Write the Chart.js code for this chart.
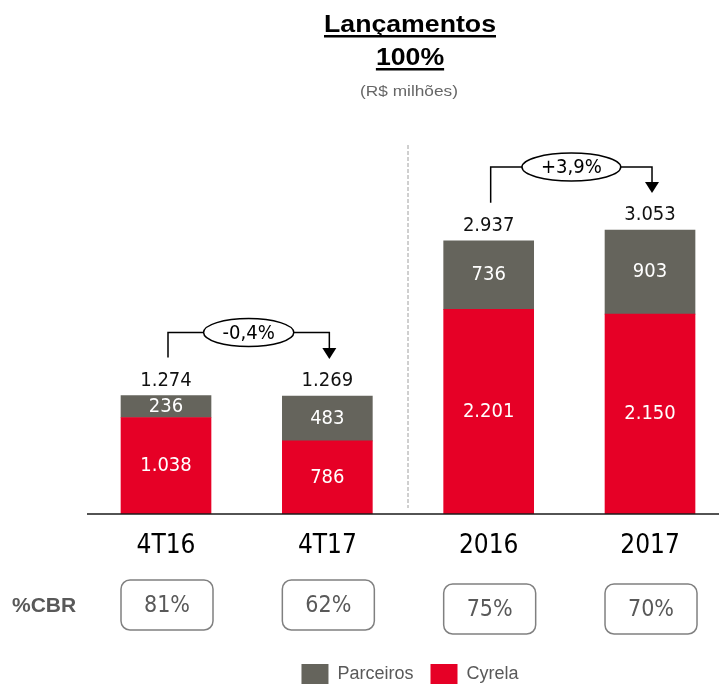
<!DOCTYPE html>
<html>
<head>
<meta charset="utf-8">
<script src="https://cdn.jsdelivr.net/npm/chart.js@4"></script>
<style>
  body { margin: 0; background: #fff; }
  #wrap { width: 721px; height: 684px; position: relative; }
</style>
</head>
<body>
<div id="wrap"><canvas id="myChart"></canvas></div>
<script>
// data
var categorias = ['4T16', '4T17', '2016', '2017'];
var cyrela = [1038, 786, 2201, 2150];
var parceiros = [236, 483, 736, 903];
var cbr = [81, 62, 75, 70];
var variacoes = [
  { de: 0, para: 1, texto: '-0,4%' },
  { de: 2, para: 3, texto: '+3,9%' }
];

var vermelho = '#E60026';
var cinza = '#65645C';
var numFont = "'DejaVu Sans Condensed', 'DejaVu Sans', sans-serif";
var arial = "'Liberation Sans', Arial, sans-serif";

function fmt(n) {
  return String(n).replace(/\B(?=(\d{3})+(?!\d))/g, '.');
}

function texto(ctx, t, x, y, font, color, sx, align, base) {
  ctx.save();
  ctx.font = font;
  ctx.fillStyle = color;
  ctx.textAlign = align || 'center';
  ctx.textBaseline = base || 'middle';
  ctx.translate(x, y);
  ctx.scale(sx || 1, 1);
  ctx.fillText(t, 0, 0);
  var w = ctx.measureText(t).width * (sx || 1);
  ctx.restore();
  return w;
}

// everything drawn around the bars
var extras = {
  id: 'extras',
  beforeDatasetsDraw: function (chart) {
    var ctx = chart.ctx;
    var x = chart.scales.x;
    var area = chart.chartArea;
    // dashed separator between quarters and years
    var xs = x.getPixelForValue(1.5);
    ctx.save();
    ctx.strokeStyle = '#c0c0c0';
    ctx.lineWidth = 1.5;
    ctx.setLineDash([4, 2]);
    ctx.beginPath();
    ctx.moveTo(xs, 145);
    ctx.lineTo(xs, area.bottom - 6);
    ctx.stroke();
    ctx.restore();
  },
  afterDatasetsDraw: function (chart) {
    var ctx = chart.ctx;
    var area = chart.chartArea;
    var m0 = chart.getDatasetMeta(0);
    var m1 = chart.getDatasetMeta(1);

    // axis line
    ctx.save();
    ctx.strokeStyle = '#1a1a1a';
    ctx.lineWidth = 1.5;
    ctx.beginPath();
    ctx.moveTo(87, area.bottom);
    ctx.lineTo(719, area.bottom);
    ctx.stroke();
    ctx.restore();

    // values inside segments and totals on top
    categorias.forEach(function (c, i) {
      var r = m0.data[i], g = m1.data[i];
      texto(ctx, fmt(cyrela[i]), r.x, (r.y + r.base) / 2, '20px ' + numFont, '#fff');
      texto(ctx, fmt(parceiros[i]), g.x, (g.y + g.base) / 2, '20px ' + numFont, '#fff');
      texto(ctx, fmt(cyrela[i] + parceiros[i]), g.x, g.y - 15, '20px ' + numFont, '#111');
    });

    // variation brackets
    variacoes.forEach(function (v) {
      var a = m1.data[v.de], b = m1.data[v.para];
      var xa = a.x + 2, xb = b.x + 2;
      var yTop = Math.min(a.y, b.y) - 63;
      var yA = a.y - 38, tip = b.y - 37;
      ctx.save();
      ctx.strokeStyle = '#000';
      ctx.fillStyle = '#000';
      ctx.lineWidth = 1.5;
      ctx.beginPath();
      ctx.moveTo(xa, yA);
      ctx.lineTo(xa, yTop);
      ctx.lineTo(xb, yTop);
      ctx.lineTo(xb, tip - 11);
      ctx.stroke();
      ctx.beginPath();
      ctx.moveTo(xb - 7, tip - 11);
      ctx.lineTo(xb + 7, tip - 11);
      ctx.lineTo(xb, tip);
      ctx.closePath();
      ctx.fill();
      ctx.font = '20px ' + numFont;
      var w = ctx.measureText(v.texto).width;
      var cx = (xa + xb) / 2;
      ctx.beginPath();
      ctx.ellipse(cx, yTop, w / 2 + 19, 14, 0, 0, Math.PI * 2);
      ctx.fillStyle = '#fff';
      ctx.fill();
      ctx.stroke();
      ctx.restore();
      texto(ctx, v.texto, cx, yTop + 1, '20px ' + numFont, '#000');
    });

    // %CBR boxes
    texto(ctx, '%CBR', 12, 606, 'bold 21px ' + arial, '#595959', 1, 'left');
    categorias.forEach(function (c, i) {
      var cx = m1.data[i].x + 1;
      var top = i < 2 ? 580 : 584;
      ctx.save();
      ctx.strokeStyle = '#808080';
      ctx.lineWidth = 1.5;
      ctx.beginPath();
      ctx.roundRect(cx - 46, top, 92, 50, 9);
      ctx.stroke();
      ctx.restore();
      texto(ctx, cbr[i] + '%', cx, top + 26, '23px ' + numFont, '#595959');
    });

    // title
    var w1 = texto(ctx, 'Lançamentos', 410, 32, 'bold 23px ' + arial, '#000', 1.16, 'center', 'alphabetic');
    ctx.fillStyle = '#000';
    ctx.fillRect(410 - w1 / 2, 35, w1, 2.5);
    var w2 = texto(ctx, '100%', 410, 65, 'bold 23px ' + arial, '#000', 1.16, 'center', 'alphabetic');
    ctx.fillRect(410 - w2 / 2, 68, w2, 2.5);
    texto(ctx, '(R$ milhões)', 409, 96, '15px ' + arial, '#666', 1.15, 'center', 'alphabetic');
  }
};

var data = {
  datasets: [
    {
      label: 'Cyrela',
      backgroundColor: vermelho,
      data: categorias.map(function (c, i) { return { x: i, y: cyrela[i] }; })
    },
    {
      label: 'Parceiros',
      backgroundColor: cinza,
      data: categorias.map(function (c, i) { return { x: i, y: parceiros[i] }; })
    }
  ]
};

var config = {
  type: 'bar',
  data: data,
  options: {
    responsive: true,
    maintainAspectRatio: false,
    animation: false,
    barThickness: 90,
    layout: { padding: { top: 142, left: 99, right: 0, bottom: -10 } },
    plugins: {
      tooltip: { enabled: false },
      legend: {
        position: 'bottom',
        reverse: true,
        labels: {
          boxWidth: 27,
          boxHeight: 20,
          padding: 17,
          color: '#595959',
          font: { family: arial, size: 18 }
        }
      }
    },
    scales: {
      x: {
        type: 'linear',
        stacked: true,
        offset: false,
        min: -0.4153,
        max: 3.44,
        grid: { display: false, drawTicks: false },
        border: { display: false },
        afterBuildTicks: function (s) {
          s.ticks = categorias.map(function (c, i) { return { value: i }; });
        },
        afterFit: function (s) { s.height = 133; },
        ticks: {
          autoSkip: false,
          maxRotation: 0,
          padding: 17,
          color: '#000',
          font: { family: numFont, size: 26 },
          callback: function (v) { return categorias[v]; }
        }
      },
      y: {
        stacked: true,
        display: false,
        min: 0,
        max: 4000
      }
    }
  },
  plugins: [extras]
};

var myChart = new Chart(document.getElementById('myChart'), config);
</script>
</body>
</html>
